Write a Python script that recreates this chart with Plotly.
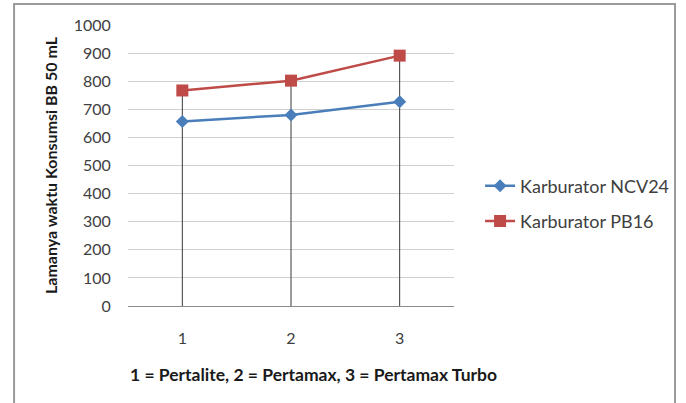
import plotly.graph_objects as go

categories = ["1", "2", "3"]
ncv24 = [657, 680, 727]
pb16 = [767, 802, 891]
y_ticks = [0, 100, 200, 300, 400, 500, 600, 700, 800, 900, 1000]

FONT = "Lato, 'Liberation Sans', sans-serif"

fig = go.Figure()

# drop lines from the highest series down to the axis
dx, dy = [], []
for c, a, b in zip(categories, ncv24, pb16):
    dx += [c, c, None]
    dy += [0, max(a, b), None]
fig.add_trace(go.Scatter(x=dx, y=dy, mode="lines", line=dict(color="#3a3a3a", width=1),
                         showlegend=False, hoverinfo="skip"))

fig.add_trace(go.Scatter(x=categories, y=ncv24, name="Karburator NCV24", legendgroup="a",
                         mode="lines+markers",
                         line=dict(color="#4A7EBB", width=2.5),
                         marker=dict(symbol="diamond", size=10, color="#4A7EBB")))
fig.add_trace(go.Scatter(x=categories, y=pb16, name="Karburator PB16", legendgroup="b",
                         mode="lines+markers",
                         line=dict(color="#BE4B48", width=2.5),
                         marker=dict(symbol="square", size=12, color="#BE4B48")))

fig.update_layout(
    width=686, height=403,
    margin=dict(l=128, r=229, t=25, b=97),
    paper_bgcolor="white", plot_bgcolor="white",
    font=dict(family=FONT, size=16, color="#404040"),
    showlegend=True,
    legend=dict(x=1.08, y=0.365, xanchor="left", yanchor="middle",
                font=dict(size=18, color="#404040"), tracegroupgap=9,
                bgcolor="rgba(0,0,0,0)", itemwidth=30),
    xaxis=dict(type="category", range=[-0.5, 2.5], showgrid=False,
               showline=False, ticks="outside", ticklen=18, tickcolor="rgba(0,0,0,0)",
               zeroline=False,
               tickfont=dict(size=16, color="#404040")),
    yaxis=dict(range=[0, 1000], tickvals=y_ticks, showgrid=True, gridcolor="#D0D0D0",
               gridwidth=1, zeroline=True, zerolinecolor="#8c8c8c", zerolinewidth=1,
               showline=False, ticks="outside", ticklen=13, tickcolor="rgba(0,0,0,0)",
               tickfont=dict(size=16, color="#404040"),
               title=dict(text="<b>Lamanya waktu Konsumsi BB 50 mL</b>",
                          font=dict(size=16, color="#1a1a1a"), standoff=12)),
    annotations=[dict(text="<b>1 = Pertalite, 2 = Pertamax, 3 = Pertamax Turbo</b>",
                      xref="paper", yref="paper", x=0.568, y=-0.245,
                      xanchor="center", yanchor="middle", showarrow=False,
                      font=dict(size=17.5, color="#1a1a1a"))],
    shapes=[dict(type="rect", xref="paper", yref="paper", x0=-0.3495, x1=1.678, y0=-0.36, y1=1.0747,
                 line=dict(color="#9a9a9a", width=2), fillcolor="rgba(0,0,0,0)", layer="below")],
)

fig.write_html("out.html", post_script="document.body.style.margin='0';",
               config={"displayModeBar": False})
